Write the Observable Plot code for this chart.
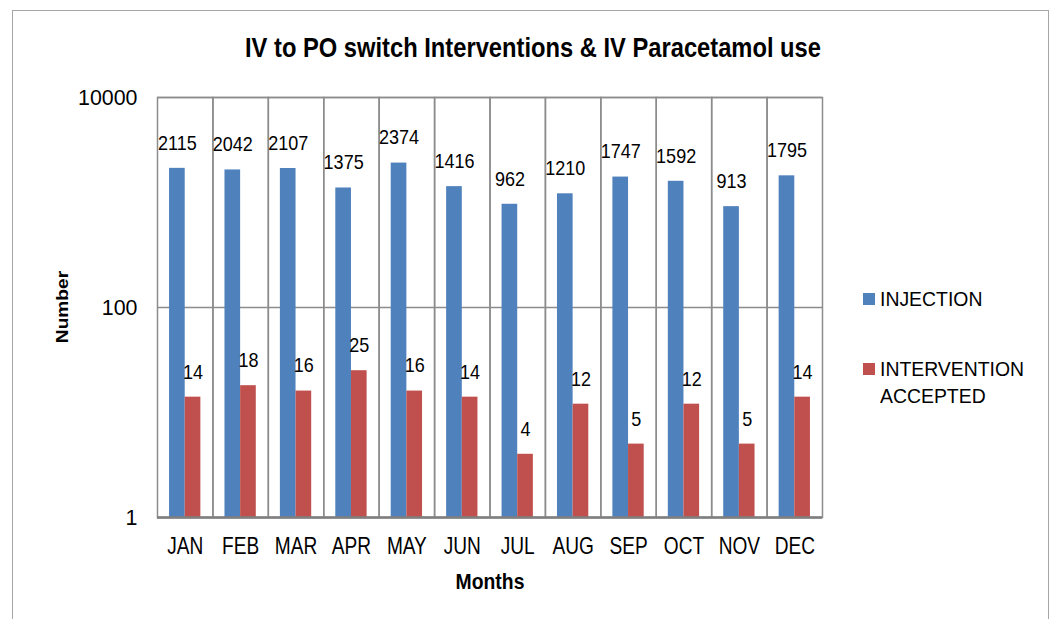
<!DOCTYPE html>
<html><head><meta charset="utf-8">
<script src="https://cdn.jsdelivr.net/npm/d3@7"></script>
<script src="https://cdn.jsdelivr.net/npm/@observablehq/plot@0.6"></script>
<style>
body{margin:0;background:#fff;}
#wrap{position:relative;width:1057px;height:619px;overflow:hidden;background:#fff;
 font-family:"Liberation Sans",Arial,sans-serif;color:#000;}
#border{position:absolute;left:12px;top:10px;width:1037px;height:640px;border:1.5px solid #a6a6a6;box-sizing:border-box;}
#chart{position:absolute;left:0;top:0;}
#title{position:absolute;left:533px;top:48px;transform:translate(-50%,-50%) scaleX(0.847);font-weight:bold;font-size:28px;line-height:32px;white-space:nowrap;}
#ylabel{position:absolute;left:62px;top:307px;transform:translate(-50%,-50%) rotate(-90deg) scaleX(1.16);font-weight:bold;font-size:16.5px;white-space:nowrap;}
#xlabel{position:absolute;left:490px;top:582px;transform:translate(-50%,-50%) scaleX(0.88);font-weight:bold;font-size:22px;white-space:nowrap;}
.lg{position:absolute;left:863px;font-size:20px;line-height:27px;}
.sw{position:absolute;left:0;width:12px;height:12px;}
.lt{position:absolute;left:17px;top:-7px;white-space:nowrap;transform-origin:0 0;transform:scaleX(0.97);}
</style></head><body>
<div id="wrap">
 <div id="border"></div>
 <div id="chart"></div>
 <div id="title"></div>
 <div id="ylabel"></div>
 <div id="xlabel"></div>
 <div id="legend"></div>
</div>
<script>
const titleText = "IV to PO switch Interventions & IV Paracetamol use";
const yLabel = "Number";
const xLabel = "Months";
const months = ["JAN","FEB","MAR","APR","MAY","JUN","JUL","AUG","SEP","OCT","NOV","DEC"];
const injection = [2115,2042,2107,1375,2374,1416,962,1210,1747,1592,913,1795];
const accepted = [14,18,16,25,16,14,4,12,5,12,5,14];
const seriesNames = ["INJECTION","INTERVENTION ACCEPTED"];
const legendLines = [["INJECTION"],["INTERVENTION","ACCEPTED"]];
const colors = ["#4F81BD","#C0504D"];
const yTicks = [1,100,10000];

const data = months.flatMap((m,i)=>[
  {month:m, series:seriesNames[0], value:injection[i]},
  {month:m, series:seriesNames[1], value:accepted[i]}
]);

const font = '"Liberation Sans",Arial,sans-serif';
const grey = "#8c8c8c";

const chart = Plot.plot({
  width:1057, height:619,
  marginLeft:157, marginRight:235, marginTop:97, marginBottom:102,
  style:{fontFamily:font, fontSize:"20px", color:"#000", background:"transparent", overflow:"visible"},
  fx:{domain:months, padding:0, round:false, label:null},
  x:{domain:seriesNames, paddingInner:0, paddingOuter:0.77, round:false, axis:null},
  y:{type:"log", domain:[1,10000], label:null},
  color:{domain:seriesNames, range:colors},
  marks:[
    Plot.frame({stroke:grey, strokeWidth:1.5}),
    Plot.gridY(yTicks, {stroke:grey, strokeOpacity:1, strokeWidth:1.5}),
    Plot.barY(data, {fx:"month", x:"series", y1:1, y2:"value", fill:"series"}),
    Plot.ruleY([1], {stroke:"#7f7f7f", strokeWidth:2.5}),
    Plot.text(data, {fx:"month", x:"series", y:"value", text:d=>String(d.value), dy:-25, fontSize:20, fill:"#000"}),
    Plot.axisY({ticks:yTicks, tickFormat:d=>String(d), tickSize:0, tickPadding:20, fontSize:23, label:null}),
    Plot.axisFx({anchor:"bottom", tickSize:0, tickPadding:20, fontSize:23, label:null})
  ]
});
// horizontal condensing of text (narrow typeface look)
const squeeze = {"text":0.9, "y-axis tick label":0.93, "fx-axis tick label":0.83};
Object.entries(squeeze).forEach(([label,s])=>{
  chart.querySelectorAll(`g[aria-label="${label}"] text`).forEach(t=>{
    const tr = t.getAttribute("transform") || "";
    t.setAttribute("transform", tr + ` scale(${s},1)`);
  });
});
document.getElementById("chart").appendChild(chart);
document.getElementById("title").textContent = titleText;
document.getElementById("ylabel").textContent = yLabel;
document.getElementById("xlabel").textContent = xLabel;
const lg = document.getElementById("legend");
const legendTops = [299, 369];
legendLines.forEach((lines,i)=>{
  const d = document.createElement("div");
  d.className = "lg";
  d.style.top = (legendTops[i]-6) + "px";
  const sw = document.createElement("div");
  sw.className = "sw"; sw.style.background = colors[i];
  const t = document.createElement("div");
  t.className = "lt"; t.innerHTML = lines.join("<br>");
  d.appendChild(sw); d.appendChild(t);
  lg.appendChild(d);
});
</script>
</body></html>
